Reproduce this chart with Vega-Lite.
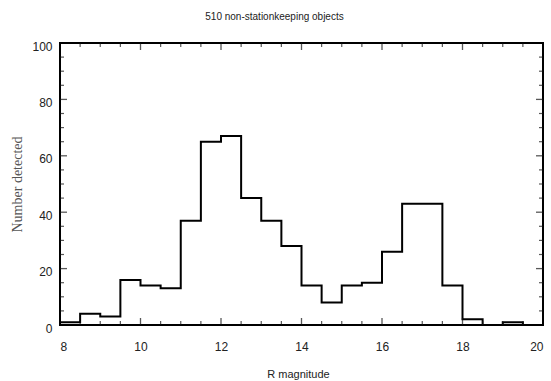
{
  "$schema": "https://vega.github.io/schema/vega-lite/v6.json",
  "width": 483,
  "height": 282,
  "autosize": "none",
  "padding": {"left": 60, "top": 43, "right": 8, "bottom": 56},
  "background": "white",
  "title": {
    "text": "510 non-stationkeeping objects",
    "font": "Liberation Sans",
    "fontSize": 10,
    "fontWeight": "normal",
    "color": "#222",
    "anchor": "middle",
    "dx": -27,
    "offset": 18
  },
  "datasets": {
    "counts": [
      {"lo": 8.0, "n": 1},
      {"lo": 8.5, "n": 4},
      {"lo": 9.0, "n": 3},
      {"lo": 9.5, "n": 16},
      {"lo": 10.0, "n": 14},
      {"lo": 10.5, "n": 13},
      {"lo": 11.0, "n": 37},
      {"lo": 11.5, "n": 65},
      {"lo": 12.0, "n": 67},
      {"lo": 12.5, "n": 45},
      {"lo": 13.0, "n": 37},
      {"lo": 13.5, "n": 28},
      {"lo": 14.0, "n": 14},
      {"lo": 14.5, "n": 8},
      {"lo": 15.0, "n": 14},
      {"lo": 15.5, "n": 15},
      {"lo": 16.0, "n": 26},
      {"lo": 16.5, "n": 43},
      {"lo": 17.0, "n": 43},
      {"lo": 17.5, "n": 14},
      {"lo": 18.0, "n": 2},
      {"lo": 18.5, "n": 0},
      {"lo": 19.0, "n": 1},
      {"lo": 19.5, "n": 0}
    ],
    "magMajor": [{"v": 10}, {"v": 12}, {"v": 14}, {"v": 16}, {"v": 18}],
    "magMinor": [
      {"v": 8.5}, {"v": 9}, {"v": 9.5}, {"v": 10.5}, {"v": 11}, {"v": 11.5},
      {"v": 12.5}, {"v": 13}, {"v": 13.5}, {"v": 14.5}, {"v": 15}, {"v": 15.5},
      {"v": 16.5}, {"v": 17}, {"v": 17.5}, {"v": 18.5}, {"v": 19}, {"v": 19.5}
    ],
    "numMajor": [{"v": 20}, {"v": 40}, {"v": 60}, {"v": 80}],
    "numMinor": [
      {"v": 5}, {"v": 10}, {"v": 15}, {"v": 25}, {"v": 30}, {"v": 35},
      {"v": 45}, {"v": 50}, {"v": 55}, {"v": 65}, {"v": 70}, {"v": 75},
      {"v": 85}, {"v": 90}, {"v": 95}
    ]
  },
  "layer": [
    {
      "data": {"name": "counts"},
      "mark": {"type": "line", "interpolate": "step-after", "color": "black", "strokeWidth": 2},
      "encoding": {
        "x": {
          "field": "lo",
          "type": "quantitative",
          "scale": {"domain": [8, 20], "nice": false, "zero": false},
          "axis": {
            "orient": "bottom",
            "title": "R magnitude",
            "titleX": 238,
            "titleY": 49,
            "titleBaseline": "middle",
            "values": [8, 10, 12, 14, 16, 18, 20],
            "format": "d",
            "domain": false,
            "ticks": false,
            "labelPadding": 16
          }
        },
        "y": {
          "field": "n",
          "type": "quantitative",
          "scale": {"domain": [0, 100], "nice": false},
          "axis": {
            "orient": "left",
            "title": "Number detected",
            "titleFont": "Liberation Serif",
            "titleFontSize": 14,
            "titleColor": "#555",
            "titleX": -43,
            "titleY": 141,
            "titleBaseline": "middle",
            "values": [0, 20, 40, 60, 80, 100],
            "format": "d",
            "domain": false,
            "ticks": false,
            "labelPadding": 8,
            "labelOffset": 3
          }
        }
      }
    },
    {
      "data": {"name": "magMajor"},
      "mark": {"type": "tick", "orient": "vertical", "size": 7, "thickness": 1.3, "color": "#111", "yOffset": -3.5},
      "encoding": {
        "x": {"field": "v", "type": "quantitative", "axis": null},
        "y": {"datum": 0, "type": "quantitative", "axis": null}
      }
    },
    {
      "data": {"name": "magMajor"},
      "mark": {"type": "tick", "orient": "vertical", "size": 7, "thickness": 1.3, "color": "#111", "yOffset": 3.5},
      "encoding": {
        "x": {"field": "v", "type": "quantitative", "axis": null},
        "y": {"datum": 100, "type": "quantitative", "axis": null}
      }
    },
    {
      "data": {"name": "magMinor"},
      "mark": {"type": "tick", "orient": "vertical", "size": 4, "thickness": 1.2, "color": "#111", "yOffset": -2},
      "encoding": {
        "x": {"field": "v", "type": "quantitative", "axis": null},
        "y": {"datum": 0, "type": "quantitative", "axis": null}
      }
    },
    {
      "data": {"name": "magMinor"},
      "mark": {"type": "tick", "orient": "vertical", "size": 4, "thickness": 1.2, "color": "#111", "yOffset": 2},
      "encoding": {
        "x": {"field": "v", "type": "quantitative", "axis": null},
        "y": {"datum": 100, "type": "quantitative", "axis": null}
      }
    },
    {
      "data": {"name": "numMajor"},
      "mark": {"type": "tick", "orient": "horizontal", "size": 7, "thickness": 1.3, "color": "#111", "xOffset": 3.5},
      "encoding": {
        "y": {"field": "v", "type": "quantitative", "axis": null},
        "x": {"datum": 8, "type": "quantitative", "axis": null}
      }
    },
    {
      "data": {"name": "numMajor"},
      "mark": {"type": "tick", "orient": "horizontal", "size": 7, "thickness": 1.3, "color": "#111", "xOffset": -3.5},
      "encoding": {
        "y": {"field": "v", "type": "quantitative", "axis": null},
        "x": {"datum": 20, "type": "quantitative", "axis": null}
      }
    },
    {
      "data": {"name": "numMinor"},
      "mark": {"type": "tick", "orient": "horizontal", "size": 4, "thickness": 1.2, "color": "#111", "xOffset": 2},
      "encoding": {
        "y": {"field": "v", "type": "quantitative", "axis": null},
        "x": {"datum": 8, "type": "quantitative", "axis": null}
      }
    },
    {
      "data": {"name": "numMinor"},
      "mark": {"type": "tick", "orient": "horizontal", "size": 4, "thickness": 1.2, "color": "#111", "xOffset": -2},
      "encoding": {
        "y": {"field": "v", "type": "quantitative", "axis": null},
        "x": {"datum": 20, "type": "quantitative", "axis": null}
      }
    }
  ],
  "resolve": {"axis": {"x": "independent", "y": "independent"}},
  "config": {
    "view": {"stroke": "black", "strokeWidth": 2},
    "axis": {
      "grid": false,
      "labelFont": "Liberation Sans",
      "labelFontSize": 12,
      "labelColor": "#222",
      "titleFont": "Liberation Sans",
      "titleFontSize": 11,
      "titleFontWeight": "normal",
      "titleColor": "#222"
    }
  }
}
